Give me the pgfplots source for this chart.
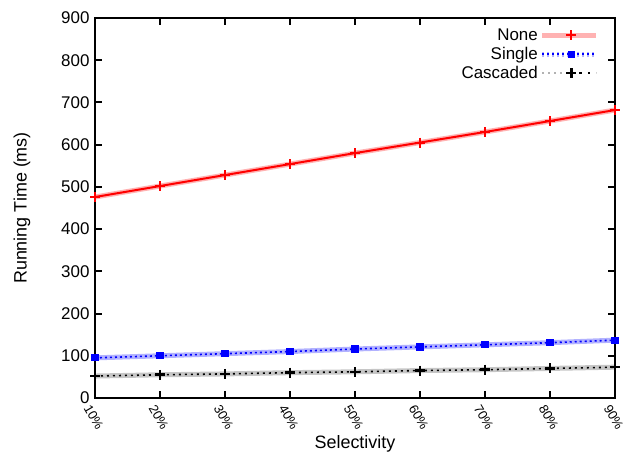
\documentclass[border=0pt]{standalone}
\usepackage{fontspec}
\setmainfont{Liberation Sans}
\usepackage{pgfplots}
\pgfplotsset{compat=1.18}
\begin{document}
\begin{tikzpicture}[x=1bp,y=1bp]
\path[use as bounding box] (0,0) rectangle (642,454);
\begin{axis}[at={(95bp,56bp)}, anchor=south west,
  scale only axis, width=520bp, height=380bp,
  xmin=0, xmax=8, ymin=0, ymax=900,
  xtick={0,...,8},
  xticklabels={10\%,20\%,30\%,40\%,50\%,60\%,70\%,80\%,90\%},
  ytick={0,100,...,900},
  tick align=inside, major tick length=7bp,
  axis line style={line width=2.4bp},
  every tick/.style={line width=2bp, black},
  /pgf/number format/assume math mode=true,
  ticklabel style={font=\fontsize{17}{19}\selectfont},
  yticklabel style={xshift=-2bp},
  xticklabel style={rotate=-60, anchor=north west, inner sep=0pt, xshift=3bp, yshift=-6bp, font=\fontsize{13}{15}\selectfont},
  xlabel={Selectivity}, ylabel={Running Time (ms)},
  label style={font=\fontsize{18}{20}\selectfont},
  xlabel style={at={(axis description cs:0.5,0)}, anchor=base, yshift=-51bp},
  ylabel style={at={(axis description cs:-0.1404,0.5)}, anchor=center},
  legend style={draw=none, fill=none, at={(1-16/520,1-8/380)}, anchor=north east,
    font=\fontsize{17}{19}\selectfont, row sep=1bp, inner sep=0pt,
    nodes={inner sep=2bp, text height=12bp, text depth=2bp}},
  legend cell align=right, legend plot pos=right,
]
\addplot[red!30, line width=5bp, forget plot] coordinates {(0,476)(1,502)(2,528)(3,554)(4,580)(5,605)(6,630)(7,656)(8,682)};
\addplot[red, line width=2bp, mark=+, mark size=5bp, mark options={line width=2bp},
  legend image code/.code={
    \draw[red!30, line width=5bp] (8bp,0bp) -- (62bp,0bp);
    \draw[draw=none, mark=+, mark size=5bp, mark options={red, line width=2bp}] plot coordinates {(37bp,0bp)};
  }] coordinates {(0,476)(1,502)(2,528)(3,554)(4,580)(5,605)(6,630)(7,656)(8,682)};
\addlegendentry{None}
\addplot[blue!30, line width=5bp, forget plot] coordinates {(0,95)(1,100)(2,105)(3,110)(4,116)(5,121)(6,126)(7,131)(8,137)};
\addplot[blue, line width=1.6bp, dash pattern=on 2bp off 3bp, mark=square*, mark size=2.8bp, mark options={solid},
  legend image code/.code={
    \draw[blue!30, line width=5bp] (8bp,0bp) -- (62bp,0bp);
    \draw[blue, line width=1.6bp, dash pattern=on 2bp off 3bp] (8bp,0bp) -- (62bp,0bp);
    \draw[draw=none, mark=square*, mark size=2.8bp, mark options={blue, solid}] plot coordinates {(37bp,0bp)};
  }] coordinates {(0,95)(1,100)(2,105)(3,110)(4,116)(5,121)(6,126)(7,131)(8,137)};
\addlegendentry{Single}
\addplot[gray!45, line width=5bp, forget plot] coordinates {(0,52)(1,55)(2,57)(3,60)(4,62)(5,65)(6,67)(7,70)(8,73)};
\addplot[black, line width=1.6bp, dash pattern=on 2bp off 4bp, mark=+, mark size=5bp, mark options={solid, line width=2.6bp},
  legend image code/.code={
    \draw[gray!60, line width=2.5bp] (8bp,0bp) -- (32bp,0bp);
    \draw[black, line width=2bp, dash pattern=on 2.5bp off 6bp] (45bp,0bp) -- (62bp,0bp);
    \draw[draw=none, mark=+, mark size=5bp, mark options={black, solid, line width=2.6bp}] plot coordinates {(37bp,0bp)};
  }] coordinates {(0,52)(1,55)(2,57)(3,60)(4,62)(5,65)(6,67)(7,70)(8,73)};
\addlegendentry{Cascaded}
\end{axis}
\end{tikzpicture}
\end{document}
